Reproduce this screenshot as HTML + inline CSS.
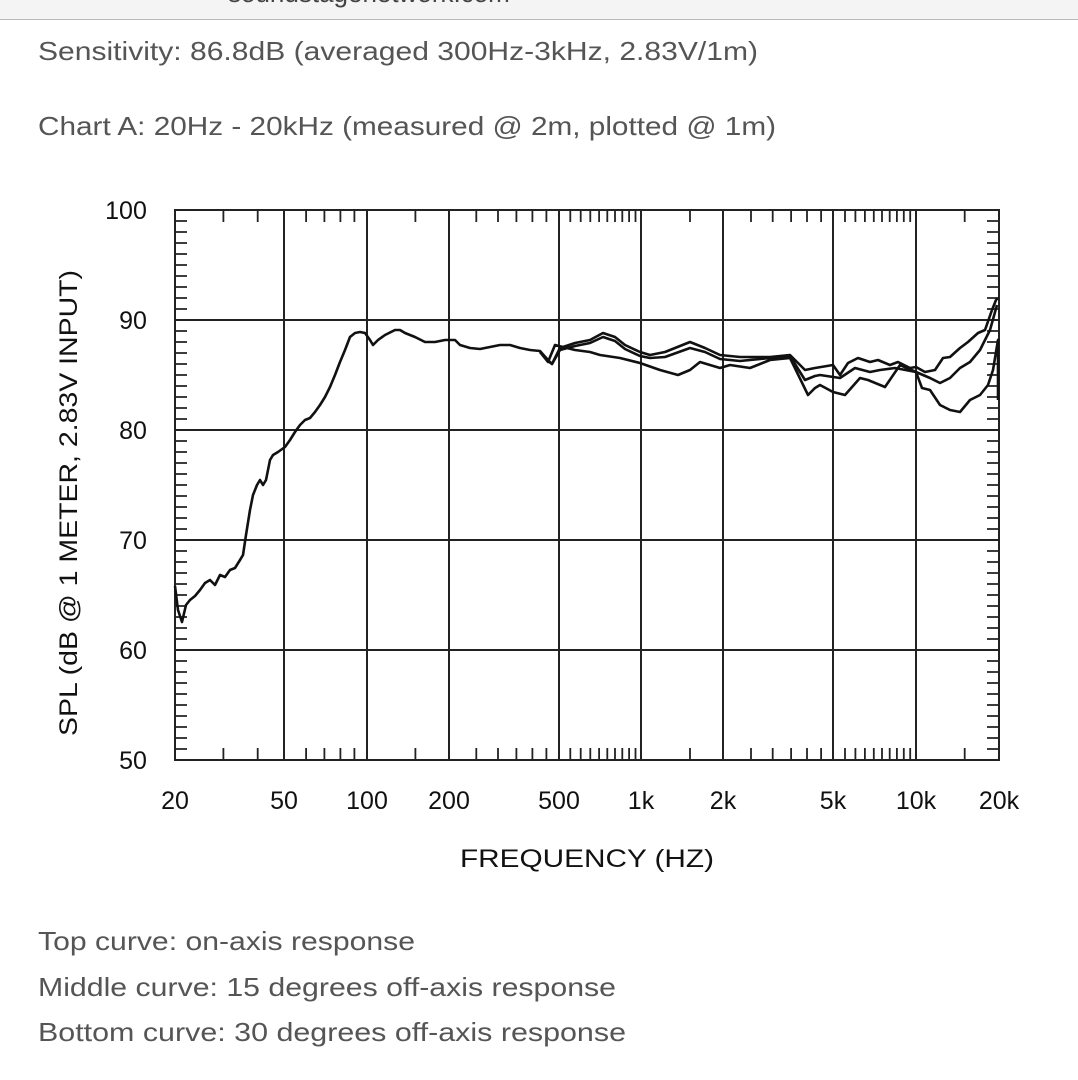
<!DOCTYPE html>
<html><head><meta charset="utf-8"><style>
html,body{margin:0;padding:0;background:#fff;}
svg{display:block;}
</style></head><body>
<svg width="1078" height="1080" xmlns="http://www.w3.org/2000/svg">
<rect x="0" y="0" width="1078" height="19" fill="#f4f4f4"/>
<line x1="0" y1="19.5" x2="1078" y2="19.5" stroke="#bbb" stroke-width="1"/>
<text x="228" y="2" font-family="Liberation Sans, sans-serif" font-size="26" fill="#444">soundstagenetwork.com</text>
<g font-family="Liberation Sans, sans-serif" font-size="26" fill="#555">
<text x="38" y="60" textLength="720" lengthAdjust="spacingAndGlyphs">Sensitivity: 86.8dB (averaged 300Hz-3kHz, 2.83V/1m)</text>
<text x="38" y="135" textLength="738" lengthAdjust="spacingAndGlyphs">Chart A: 20Hz - 20kHz (measured @ 2m, plotted @ 1m)</text>
<text x="38" y="950" textLength="377" lengthAdjust="spacingAndGlyphs">Top curve: on-axis response</text>
<text x="38" y="996" textLength="578" lengthAdjust="spacingAndGlyphs">Middle curve: 15 degrees off-axis response</text>
<text x="38" y="1041" textLength="588" lengthAdjust="spacingAndGlyphs">Bottom curve: 30 degrees off-axis response</text>
</g>
<g id="grid" stroke="#222" stroke-width="2" fill="none">
<rect x="175" y="210" width="824" height="550"/>
<path d="M284 210V760M367 210V760M449 210V760M559 210V760M641 210V760M723 210V760M833 210V760M916 210V760M175 320H999M175 430H999M175 540H999M175 650H999"/>
</g>
<g id="ticks" stroke="#222" stroke-width="1.8"></g>
<g font-family="Liberation Sans, sans-serif" font-size="25" fill="#111" text-anchor="middle">
<text x="126" y="219">100</text><text x="133" y="329">90</text><text x="133" y="439">80</text><text x="133" y="549">70</text><text x="133" y="659">60</text><text x="133" y="769">50</text>
<text x="175" y="809">20</text><text x="284" y="809">50</text><text x="367" y="809">100</text><text x="449" y="809">200</text><text x="559" y="809">500</text><text x="641" y="809">1k</text><text x="723" y="809">2k</text><text x="833" y="809">5k</text><text x="916" y="809">10k</text><text x="999" y="809">20k</text>
<text x="587" y="867" textLength="254" lengthAdjust="spacingAndGlyphs">FREQUENCY  (HZ)</text>
<text transform="translate(77,503) rotate(-90)" textLength="466" lengthAdjust="spacingAndGlyphs">SPL (dB @ 1 METER, 2.83V INPUT)</text>
</g>
<g fill="none" stroke="#111" stroke-width="2.6" stroke-linejoin="round">
<polyline id="top" points="175,586 178,610 182,622 186,605 190,600 195,596 200,590 205,583 210,580 215,585 220,575 225,577 230,570 235,568 240,560 243,555 246,535 250,510 253,495 257,485 260,480 263,485 266,480 270,460 273,455 278,452 285,447 290,440 295,432 300,425 305,420 310,418 315,412 320,405 325,397 330,387 335,375 340,362 345,350 350,337 355,333 360,332 365,333 370,340 373,345 378,340 385,335 395,330 400,330 405,333 415,337 425,342 435,342 445,340 455,340 460,345 470,348 480,349 490,347 500,345 510,345 520,348 530,350 540,351 548,360 552,364 560,348 575,343 590,340 603,333 615,337 625,345 640,352 650,355 665,352 690,342 705,348 720,355 740,357 770,357 790,355 805,370 815,368 833,365 840,375 848,363 858,358 870,362 878,360 890,365 898,362 910,368 916,367 925,372 935,370 943,358 950,357 960,348 968,342 978,333 985,330 992,310 996,300 998,298"/>
<polyline id="mid" points="540,352 548,361 552,364 560,350 575,346 590,343 603,337 615,341 625,349 640,356 650,358 665,357 690,348 705,352 720,359 740,361 770,358 790,356 805,380 815,376 820,375 840,378 855,368 870,372 880,370 895,368 916,372 930,378 940,383 950,378 960,368 970,362 980,350 990,330 997,305"/>
<polyline id="bot" points="540,352 548,362 555,345 575,350 590,352 600,355 620,358 640,363 660,370 678,375 690,370 700,362 720,368 730,365 750,368 770,360 790,358 808,395 815,388 820,385 833,392 845,395 860,378 868,380 885,387 900,365 916,372 922,388 930,390 940,405 950,410 960,412 970,400 980,395 988,385 993,370 998,340 998,400"/>
</g>
<script>
var g=document.getElementById('ticks'),d='';
function X(f){return 175+Math.log10(f/20)*274.67;}
var fs=[30,40,60,70,80,90,150,250,300,350,400,450,550,600,650,700,750,800,850,900,950,1500,2500,3000,3500,4000,4500,5500,6000,6500,7000,7500,8000,8500,9000,9500,15000];
fs.forEach(function(f){var x=X(f).toFixed(1);d+='M'+x+' 210v12M'+x+' 760v-12';});
for(var v=51;v<100;v++){if(v%10==0)continue;var y=760-(v-50)*11;d+='M175 '+y+'h12M999 '+y+'h-12';}
var p=document.createElementNS('http://www.w3.org/2000/svg','path');p.setAttribute('d',d);g.appendChild(p);
</script>
</svg>
</body></html>
